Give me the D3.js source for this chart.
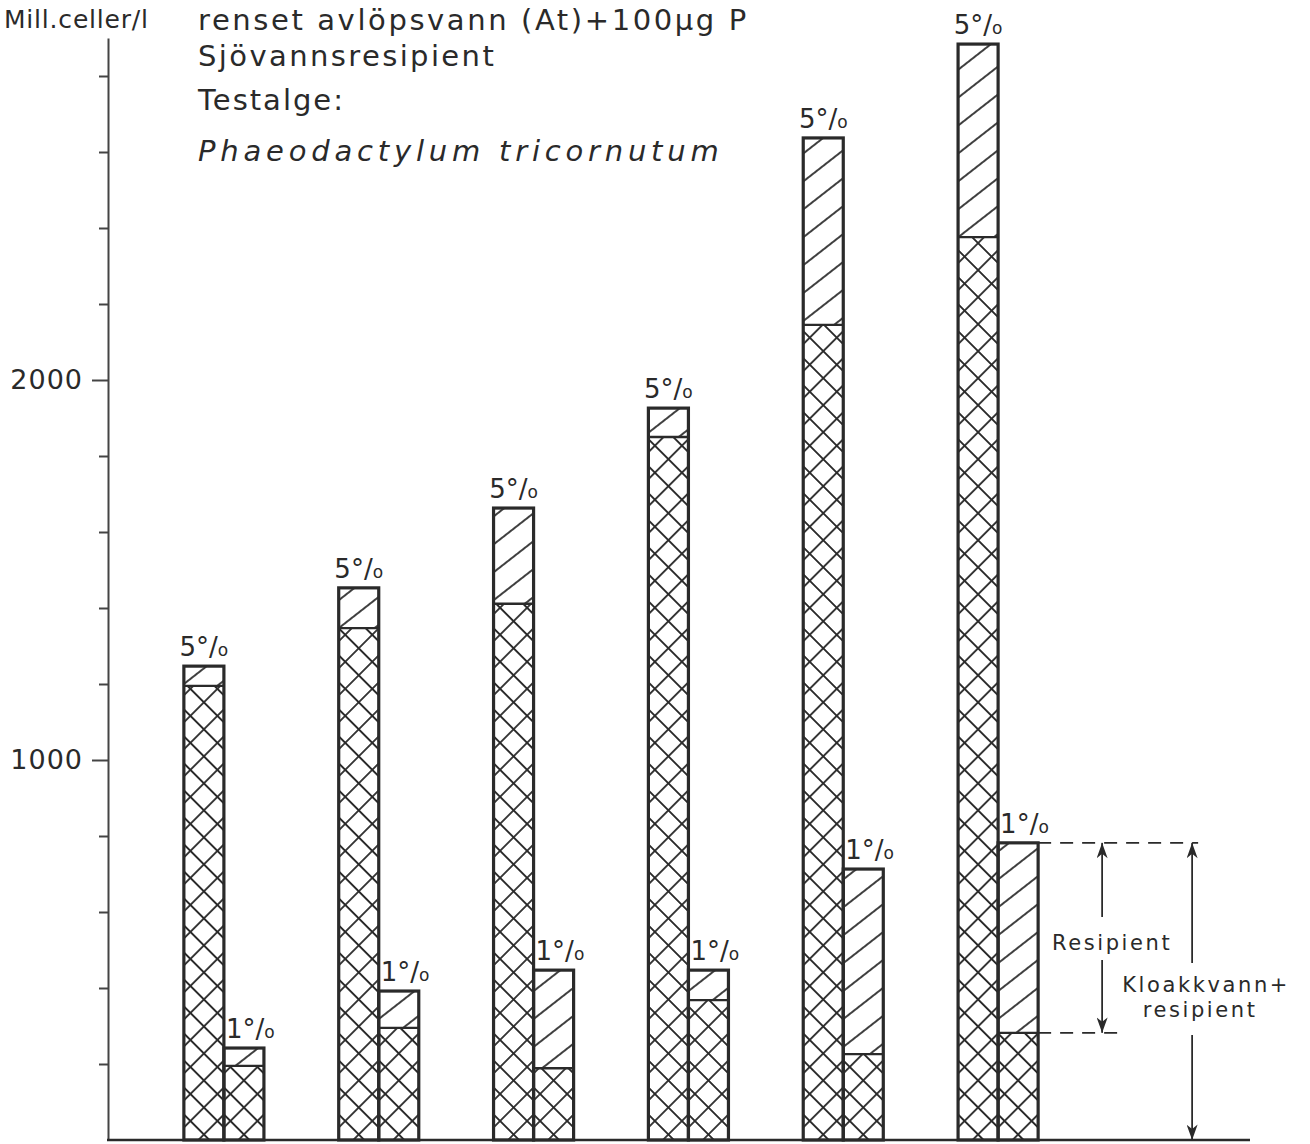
<!DOCTYPE html>
<html lang="no">
<head>
  <meta charset="UTF-8">
  <title>Phaeodactylum tricornutum</title>
  <script src="https://d3js.org/d3.v7.min.js"></script>
  <style>
    body { margin: 0; background: #fff; }
    svg { display: block; font-family: "DejaVu Sans", sans-serif; }
    text { fill: #2a2a2a; }
    .axis path, .axis line { stroke: #444; stroke-width: 2; }
    .axis text { font-size: 27px; letter-spacing: 1px; fill: #2a2a2a; font-family: "DejaVu Sans", sans-serif; }
  </style>
</head>
<body>
  <svg></svg>
  <script>
    // forsøk 1-6, to konsentrasjoner
    const groups = ['1', '2', '3', '4', '5', '6'];
    const series = ['5°/o', '1°/o'];
    const total5 = [1247, 1453, 1663, 1926, 2637, 2884];
    const lower5 = [1195, 1347, 1411, 1850, 2145, 2376];
    const total1 = [242, 392, 447, 447, 713, 782];
    const lower1 = [195, 295, 189, 368, 226, 282];
    const yTicks = [200, 400, 600, 800, 1000, 1200, 1400, 1600, 1800, 2000, 2200, 2400, 2600, 2800];
    const yLabels = [1000, 2000];

    const width = 1310, height = 1144;
    const ink = '#2a2a2a';

    const svg = d3.select('svg')
        .attr('width', width)
        .attr('height', height);

    svg.append('rect').attr('width', width).attr('height', height).attr('fill', '#fff');

    const y = d3.scaleLinear()
        .domain([0, 2900])
        .range([1140, 38]);

    const x = d3.scaleBand()
        .domain(groups)
        .range([108, 1114])
        .paddingInner(0.483)
        .paddingOuter(0.49);

    const xs = d3.scaleBand()
        .domain(series)
        .range([0, x.bandwidth()]);

    const w = xs.bandwidth();

    // skravur
    const defs = svg.append('defs');
    const c = 19.1;
    defs.append('pattern')
        .attr('id', 'cross')
        .attr('patternUnits', 'userSpaceOnUse')
        .attr('x', -c / 2).attr('y', -c / 2)
        .attr('width', c).attr('height', c)
        .attr('patternTransform', `translate(${w / 2},0) rotate(45)`)
      .append('path')
        .attr('d', `M${c / 2},0V${c}M0,${c / 2}H${c}`)
        .attr('stroke', ink)
        .attr('stroke-width', 1.8);

    defs.append('pattern')
        .attr('id', 'hatch')
        .attr('patternUnits', 'userSpaceOnUse')
        .attr('width', 10).attr('height', 22)
        .attr('patternTransform', 'rotate(-38)')
      .append('path')
        .attr('d', 'M0,11H10')
        .attr('stroke', ink)
        .attr('stroke-width', 1.8);

    const bars = [];
    groups.forEach((g, i) => {
      bars.push({ g: g, s: series[0], total: total5[i], lower: lower5[i] });
      bars.push({ g: g, s: series[1], total: total1[i], lower: lower1[i] });
    });

    const bar = svg.selectAll('.bar')
        .data(bars)
        .enter()
        .append('g')
        .attr('class', 'bar')
        .attr('transform', d => `translate(${x(d.g) + xs(d.s)},0)`);

    bar.append('rect')
        .attr('x', 0)
        .attr('y', d => y(d.lower))
        .attr('width', w)
        .attr('height', d => y(0) - y(d.lower))
        .attr('fill', 'url(#cross)');

    bar.append('rect')
        .attr('x', 0)
        .attr('y', d => y(d.total))
        .attr('width', w)
        .attr('height', d => y(d.lower) - y(d.total))
        .attr('fill', 'url(#hatch)');

    bar.append('rect')
        .attr('x', 0)
        .attr('y', d => y(d.total))
        .attr('width', w)
        .attr('height', d => y(0) - y(d.total))
        .attr('fill', 'none')
        .attr('stroke', ink)
        .attr('stroke-width', 3.2);

    bar.append('line')
        .attr('x1', 0).attr('x2', w)
        .attr('y1', d => y(d.lower)).attr('y2', d => y(d.lower))
        .attr('stroke', ink)
        .attr('stroke-width', 2.4);

    // prosent-etiketter
    const lab = bar.append('text')
        .attr('x', d => d.s === series[0] ? w / 2 : 2)
        .attr('y', d => y(d.total) - 10)
        .attr('text-anchor', d => d.s === series[0] ? 'middle' : 'start')
        .style('font-size', '26px');
    lab.append('tspan').text(d => d.s.slice(0, 3));
    lab.append('tspan').style('font-size', '17px').text(d => d.s.slice(3));

    // akser
    const yAxis = svg.append('g')
        .attr('class', 'axis')
        .attr('transform', 'translate(108,0)')
        .call(d3.axisLeft(y)
            .tickValues(yTicks)
            .tickSizeInner(16)
            .tickSizeOuter(0)
            .tickPadding(9)
            .tickFormat(d => yLabels.includes(d) ? d : ''));
    yAxis.selectAll('.tick line')
        .attr('x2', d => yLabels.includes(d) ? -16 : -9);

    svg.append('line')
        .attr('x1', 107).attr('x2', 1250)
        .attr('y1', y(0)).attr('y2', y(0))
        .attr('stroke', ink)
        .attr('stroke-width', 2.5);

    // tekst øverst
    svg.append('text')
        .attr('x', 4).attr('y', 28)
        .style('font-size', '25px')
        .style('letter-spacing', '0.8px')
        .text('Mill.celler/l');

    const head = [
      { t: 'renset avlöpsvann (At)+100µg P', y: 30, ls: 2.6, it: false },
      { t: 'Sjövannsresipient', y: 66, ls: 2.4, it: false },
      { t: 'Testalge:', y: 110, ls: 2, it: false },
      { t: 'Phaeodactylum tricornutum', y: 161, ls: 4.8, it: true }
    ];
    svg.selectAll('.head')
        .data(head)
        .enter()
        .append('text')
        .attr('class', 'head')
        .attr('x', 198)
        .attr('y', d => d.y)
        .style('font-size', '29px')
        .style('letter-spacing', d => d.ls + 'px')
        .style('font-style', d => d.it ? 'italic' : 'normal')
        .text(d => d.t);

    // forklaring ved siste stolpe
    defs.append('marker')
        .attr('id', 'arr')
        .attr('viewBox', '0 0 14 10')
        .attr('refX', 14).attr('refY', 5)
        .attr('markerWidth', 16).attr('markerHeight', 11)
        .attr('markerUnits', 'userSpaceOnUse')
        .attr('orient', 'auto-start-reverse')
      .append('path')
        .attr('d', 'M0,0L14,5L0,10L4,5Z')
        .attr('fill', ink);

    const last = groups.length - 1;
    const bx = x(groups[last]) + xs(series[1]) + w;
    const yT = y(total1[last]), yL = y(lower1[last]), y0 = y(0);
    const ax1 = bx + 64, ax2 = bx + 154;

    const ann = svg.append('g')
        .attr('stroke', ink)
        .attr('stroke-width', 1.8);
    ann.append('line').attr('x1', bx).attr('x2', bx + 160).attr('y1', yT).attr('y2', yT)
        .attr('stroke-dasharray', '13,9');
    ann.append('line').attr('x1', bx).attr('x2', bx + 86).attr('y1', yL).attr('y2', yL)
        .attr('stroke-dasharray', '13,9');
    ann.append('line').attr('x1', ax1).attr('x2', ax1).attr('y1', 917).attr('y2', yT)
        .attr('marker-end', 'url(#arr)');
    ann.append('line').attr('x1', ax1).attr('x2', ax1).attr('y1', 960).attr('y2', yL)
        .attr('marker-end', 'url(#arr)');
    ann.append('line').attr('x1', ax2).attr('x2', ax2).attr('y1', 963).attr('y2', yT)
        .attr('marker-end', 'url(#arr)');
    ann.append('line').attr('x1', ax2).attr('x2', ax2).attr('y1', 1035).attr('y2', y0)
        .attr('marker-end', 'url(#arr)');

    const annText = [
      { t: 'Resipient', x: ax1 + 10, y: 950 },
      { t: 'Kloakkvann+', x: ax2 + 14, y: 992 },
      { t: 'resipient', x: ax2 + 8, y: 1017 }
    ];
    svg.selectAll('.ann')
        .data(annText)
        .enter()
        .append('text')
        .attr('class', 'ann')
        .attr('x', d => d.x)
        .attr('y', d => d.y)
        .attr('text-anchor', 'middle')
        .style('font-size', '21px')
        .style('letter-spacing', '2.6px')
        .text(d => d.t);
  </script>
</body>
</html>
